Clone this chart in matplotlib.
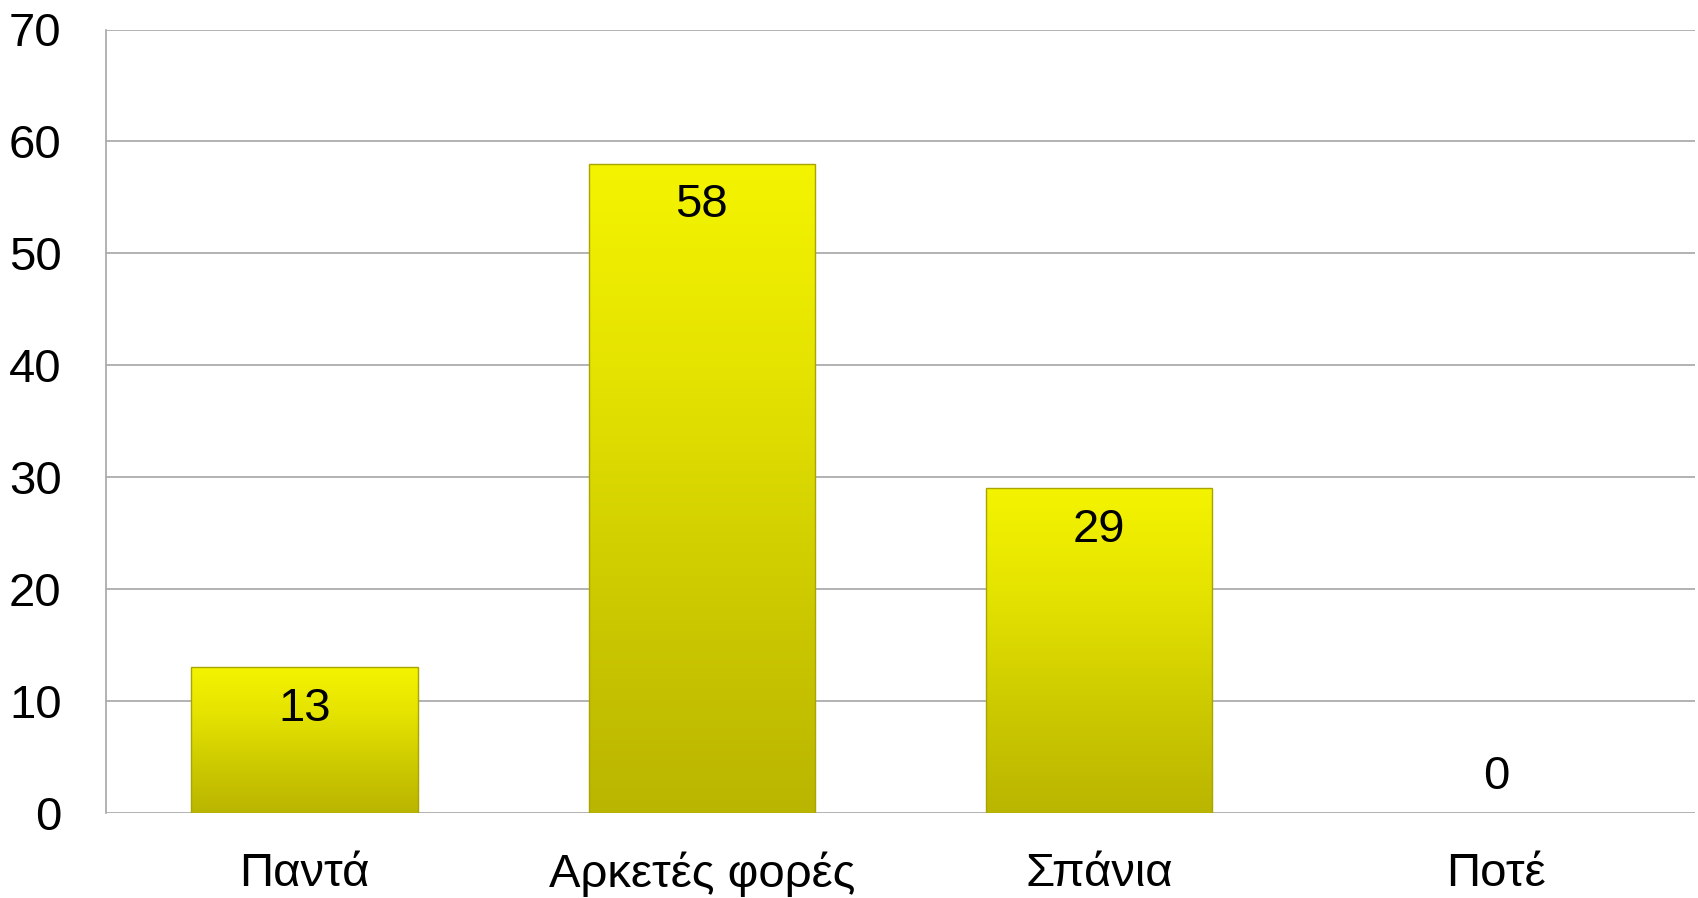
import numpy as np
import matplotlib
matplotlib.use("Agg")
import matplotlib.pyplot as plt
from matplotlib.colors import LinearSegmentedColormap

plt.rcParams['font.family'] = ['Liberation Sans', 'DejaVu Sans']

categories = ['Παντά', 'Αρκετές φορές', 'Σπάνια', 'Ποτέ']
values = [13, 58, 29, 0]
yticks = [0, 10, 20, 30, 40, 50, 60, 70]

fig = plt.figure(figsize=(16.98, 8.98), dpi=100)
ax = fig.add_axes([106 / 1698, 1 - 813 / 898, 1589 / 1698, (813 - 29.5) / 898])

x = np.arange(len(categories))
width = 0.57
bars = ax.bar(x, values, width=width, color='none', edgecolor='#a8a400', linewidth=1.0, zorder=3)

# yellow gradient fill, bright at top and darker olive at the bottom
cmap = LinearSegmentedColormap.from_list('yel', ['#bab500', '#cdca00', '#e4e200', '#f4f400'])
grad = np.linspace(0, 1, 256).reshape(-1, 1)
for b, v in zip(bars, values):
    if v <= 0:
        b.set_linewidth(0)
        continue
    im = ax.imshow(grad, cmap=cmap, aspect='auto', origin='lower',
                   extent=[b.get_x(), b.get_x() + b.get_width(), 0, v], zorder=2)
    im.set_clip_path(b)

for xi, v in zip(x, values):
    if v > 0:
        ax.annotate(str(v), (xi, v), xytext=(0, -14), textcoords='offset points',
                    ha='center', va='top', fontsize=34, zorder=4)
    else:
        ax.annotate(str(v), (xi, v), xytext=(0, 10), textcoords='offset points',
                    ha='center', va='bottom', fontsize=34, zorder=4)

ax.set_xlim(-0.5, len(categories) - 0.5)
ax.set_ylim(0, 70)
ax.set_yticks(yticks)
ax.set_xticks(x)
ax.set_xticklabels(categories)
ax.tick_params(axis='y', length=0, pad=32, labelsize=34)
ax.tick_params(axis='x', length=0, pad=28, labelsize=34)
ax.yaxis.grid(True, color='#a6a6a6', linewidth=1.2, zorder=0)
ax.set_axisbelow(True)
for s in ['top', 'right', 'bottom']:
    ax.spines[s].set_visible(False)
ax.spines['left'].set_color('#a6a6a6')
ax.spines['left'].set_linewidth(1.2)

fig.savefig('out.png', dpi=100)
